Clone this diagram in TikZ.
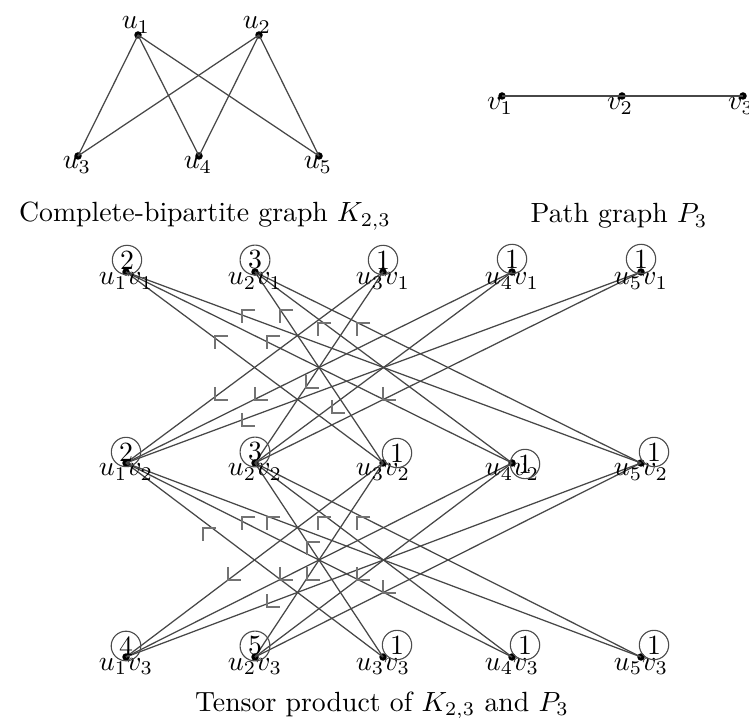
\documentclass[tikz,border=0pt]{standalone}
\begin{document}
\begin{tikzpicture}[x=0.36pt,y=-0.36pt,
  vdot/.style={circle,fill=black,inner sep=0pt,minimum size=2.7pt},
  edge/.style={draw=black!72,line width=0.45pt},
  numc/.style={circle,draw=black!70,line width=0.4pt,inner sep=0.8pt},
  lab/.style={anchor=base,inner sep=0pt},
  cornermark/.style={draw=black!55,line width=0.45pt}]
\useasboundingbox (0,0) rectangle (749,718);
% complete bipartite graph
\node[vdot] (u1) at (138,35) {};
\node[vdot] (u2) at (259,35) {};
\node[vdot] (u3) at (78,156) {};
\node[vdot] (u4) at (199,156) {};
\node[vdot] (u5) at (319,156) {};
\foreach \a in {1,2}
  \foreach \b in {3,4,5}
    \draw[edge] (u\a.center) -- (u\b.center);
\node[lab] (lu1) at (136,29) {$u_1$};
\node[lab] (lu2) at (257,29) {$u_2$};
\node[lab] (lu3) at (77,169) {$u_3$};
\node[lab] (lu4) at (198,169) {$u_4$};
\node[lab] (lu5) at (318,169) {$u_5$};
\node[lab] (cap1) at (205,222) {Complete-bipartite graph $K_{2,3}$};
% path graph
\node[vdot] (v1) at (502,96) {};
\node[vdot] (v2) at (622,96) {};
\node[vdot] (v3) at (743,96) {};
\draw[edge] (v1.center) -- (v2.center) -- (v3.center);
\node[lab] (lv1) at (500,110) {$v_1$};
\node[lab] (lv2) at (620,110) {$v_2$};
\node[lab] (lv3) at (741,110) {$v_3$};
\node[lab] (cap2) at (619,223) {Path graph $P_3$};
% tensor product
\foreach \i/\x in {1/126,2/255,3/383,4/512,5/641}
  \foreach \j/\y in {1/272,2/463,3/657}
    \node[vdot] (w\i\j) at (\x,\y) {};
\foreach \a in {1,2}
  \foreach \b in {3,4,5} {
    \draw[edge] (w\a1.center) -- (w\b2.center);
    \draw[edge] (w\b1.center) -- (w\a2.center);
    \draw[edge] (w\a2.center) -- (w\b3.center);
    \draw[edge] (w\b2.center) -- (w\a3.center);
  }
\foreach \i/\x in {1/126,2/255,3/383,4/512,5/641}
  \foreach \j/\y in {1/272,2/463,3/657}
    \node[lab] (lw\i\j) at (\x,\y+13) {$u_\i v_\j$};
% circled numbers
\node[numc] (n11) at (127,260) {2};
\node[numc] (n21) at (255,260) {3};
\node[numc] (n31) at (383,260) {1};
\node[numc] (n41) at (512,259) {1};
\node[numc] (n51) at (641,259) {1};
\node[numc] (n12) at (126,452) {2};
\node[numc] (n22) at (255,452) {3};
\node[numc] (n32) at (397,453) {1};
\node[numc] (n42) at (525,464) {1};
\node[numc] (n52) at (654,452) {1};
\node[numc] (n13) at (126,646) {4};
\node[numc] (n23) at (255,646) {5};
\node[numc] (n33) at (397,645) {1};
\node[numc] (n43) at (525,645) {1};
\node[numc] (n53) at (654,645) {1};
% corner marks
\foreach \cx/\cy in {242/310,280/310,318/323,357/323,215/336,267/336,
                     203/528,242/517,267/517,318/517,357/517,307/542}
  \draw[cornermark] (\cx+13,\cy) -- (\cx,\cy) -- (\cx,\cy+13);
\foreach \cx/\cy in {215/400,255/400,306/388,383/400,332/413,242/426,
                     228/580,280/580,307/580,357/580,267/607,383/593}
  \draw[cornermark] (\cx,\cy-13) -- (\cx,\cy) -- (\cx+13,\cy);
\node[lab] (cap3) at (382,711) {Tensor product of $K_{2,3}$ and $P_3$};
\end{tikzpicture}
\end{document}
